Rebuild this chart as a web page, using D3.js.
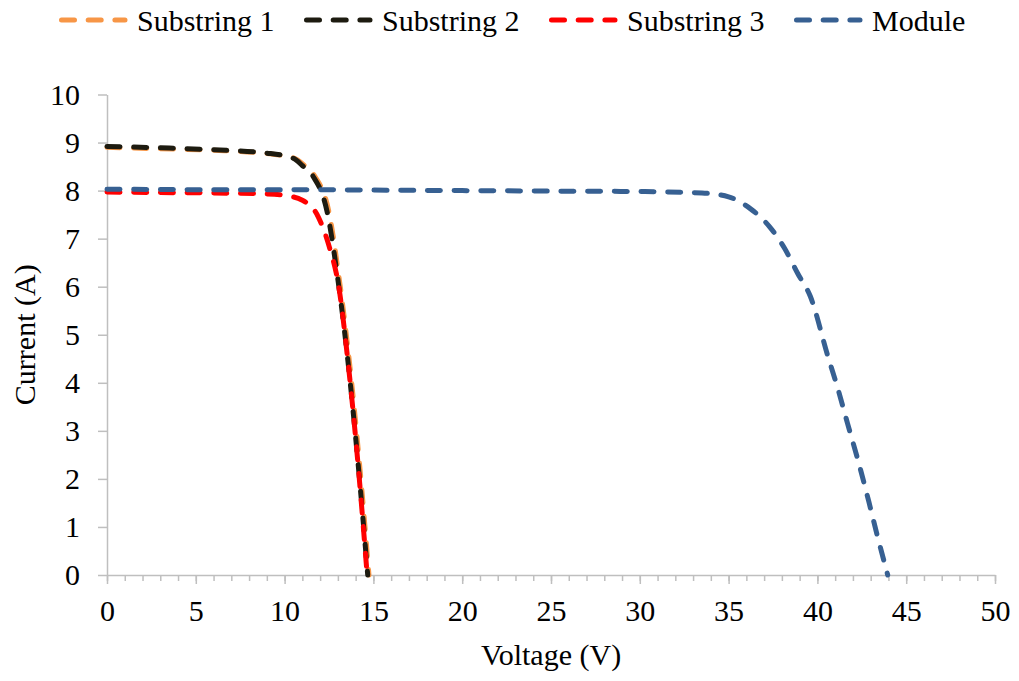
<!DOCTYPE html>
<html>
<head>
<meta charset="utf-8">
<script src="https://cdn.jsdelivr.net/npm/d3@7"></script>
</head>
<body style="margin:0">
<script>
const SERIES_NAMES = ["Substring 1", "Substring 2", "Substring 3", "Module"];
const SERIES_COLORS = ["#F79646", "#1D1B10", "#FF0000", "#376092"];

const sub1V = [0, 3, 6, 9, 10.5, 11.1, 11.7, 12.5, 13.08, 13.64, 14.2, 14.75];
const sub1I = [8.90, 8.87, 8.84, 8.77, 8.68, 8.53, 8.30, 7.55, 6.15, 4.47, 2.39, 0];

const sub2V = [0, 3, 6, 9, 10.5, 11, 11.6, 12.4, 13, 13.56, 14.12, 14.68];
const sub2I = [8.92, 8.89, 8.85, 8.78, 8.67, 8.52, 8.30, 7.55, 6.15, 4.47, 2.39, 0];

const sub3V = [0, 3, 6, 9, 10, 11, 11.9, 12.5, 13.05, 13.56, 14.1, 14.65];
const sub3I = [7.97, 7.96, 7.95, 7.93, 7.90, 7.80, 7.45, 6.85, 6.00, 4.47, 2.45, 0];

const modV = [0, 5, 10, 15, 20, 25, 30, 33.5, 35, 36.2, 37.3, 38.15, 38.9, 39.6, 40.6, 41.15, 41.7, 42.35, 42.9, 43.4, 43.96];
const modI = [8.03, 8.02, 8.02, 8.01, 8.00, 7.99, 7.98, 7.95, 7.87, 7.63, 7.25, 6.80, 6.27, 5.80, 4.54, 3.88, 3.15, 2.30, 1.52, 0.78, 0];

const xTicks = [0, 5, 10, 15, 20, 25, 30, 35, 40, 45, 50];
const xMinorTicks = d3.range(0, 51, 1);
const yTicks = [0, 1, 2, 3, 4, 5, 6, 7, 8, 9, 10];

const W = 1019, H = 681;
const margin = { top: 94.5, right: 24, bottom: 106, left: 107 };
const plotW = W - margin.left - margin.right;
const plotH = H - margin.top - margin.bottom;
const AXIS_COLOR = "#BFBFBF";
const FONT = "'Times New Roman'";
const FONT_SIZE = 30;
const DASH = "13,13.7";
const LINE_W = 5;
const LEGEND_X = [59, 304, 549, 794];

const seriesData = [
    d3.zip(sub1V, sub1I),
    d3.zip(sub2V, sub2I),
    d3.zip(sub3V, sub3I),
    d3.zip(modV, modI)
];

const svg = d3.select("body")
    .append("svg")
    .attr("width", W)
    .attr("height", H);

const x = d3.scaleLinear().domain([0, 50]).range([0, plotW]);
const y = d3.scaleLinear().domain([0, 10]).range([plotH, 0]);

const g = svg.append("g")
    .attr("transform", "translate(" + margin.left + "," + margin.top + ")");

// minor ticks on x
g.append("g")
    .attr("transform", "translate(0," + plotH + ")")
    .call(d3.axisBottom(x).tickValues(xMinorTicks).tickSize(6).tickFormat(""))
    .call(a => a.select(".domain").remove())
    .selectAll("line")
    .attr("stroke", AXIS_COLOR)
    .attr("stroke-width", 1.5);

const xAxis = g.append("g")
    .attr("transform", "translate(0," + plotH + ")")
    .call(d3.axisBottom(x).tickValues(xTicks).tickSize(9).tickSizeOuter(0).tickPadding(16));

const yAxis = g.append("g")
    .call(d3.axisLeft(y).tickValues(yTicks).tickSize(9).tickSizeOuter(0).tickPadding(18));

[xAxis, yAxis].forEach(a => {
    a.attr("font-family", null).attr("font-size", null);
    a.select(".domain").attr("stroke", AXIS_COLOR).attr("stroke-width", 1.5);
    a.selectAll(".tick line").attr("stroke", AXIS_COLOR).attr("stroke-width", 1.5);
    a.selectAll(".tick text")
        .style("font-family", FONT)
        .attr("font-size", FONT_SIZE)
        .attr("fill", "#000");
});
xAxis.selectAll(".tick text").attr("dy", "0.71em");

const line = d3.line()
    .x(d => x(d[0]))
    .y(d => y(d[1]))
    .curve(d3.curveMonotoneX);

g.selectAll("path.series")
    .data(seriesData)
    .join("path")
    .attr("class", "series")
    .attr("d", line)
    .attr("fill", "none")
    .attr("stroke", (d, i) => SERIES_COLORS[i])
    .attr("stroke-width", LINE_W)
    .attr("stroke-linecap", "round")
    .attr("stroke-dasharray", DASH);

// axis titles
svg.append("text")
    .attr("x", margin.left + plotW / 2)
    .attr("y", 665)
    .attr("text-anchor", "middle")
    .style("font-family", FONT)
    .attr("font-size", FONT_SIZE)
    .text("Voltage (V)");

svg.append("text")
    .attr("transform", "translate(35," + (margin.top + plotH / 2) + ") rotate(-90)")
    .attr("text-anchor", "middle")
    .style("font-family", FONT)
    .attr("font-size", FONT_SIZE)
    .text("Current (A)");

// legend
const legend = svg.append("g").attr("class", "legend");
SERIES_NAMES.forEach((name, i) => {
    const lx = LEGEND_X[i];
    legend.append("line")
        .attr("x1", lx + 2.5)
        .attr("x2", lx + 66)
        .attr("y1", 20)
        .attr("y2", 20)
        .attr("stroke", SERIES_COLORS[i])
        .attr("stroke-width", LINE_W)
        .attr("stroke-linecap", "round")
        .attr("stroke-dasharray", DASH);
    legend.append("text")
        .attr("x", lx + 78)
        .attr("y", 31)
        .style("font-family", FONT)
        .attr("font-size", FONT_SIZE)
        .text(name);
});
</script>
</body>
</html>
